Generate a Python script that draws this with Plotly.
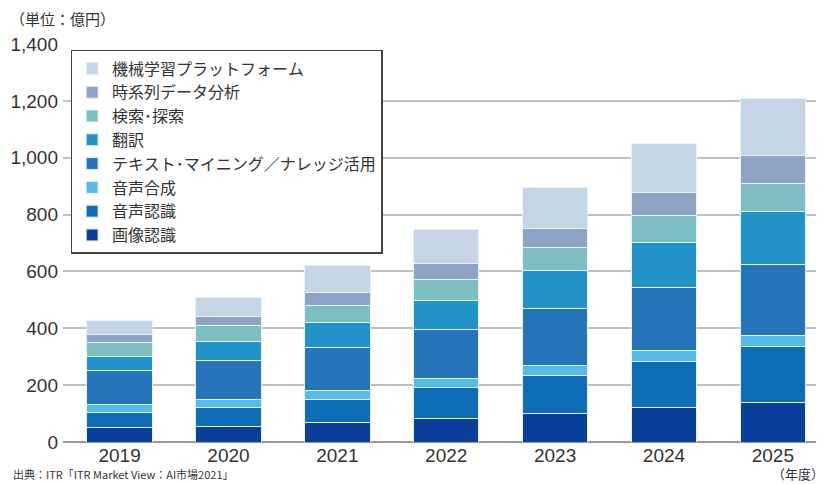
import plotly.graph_objects as go

years = ["2019", "2020", "2021", "2022", "2023", "2024", "2025"]

series_names = [
    "画像認識",
    "音声認識",
    "音声合成",
    "テキスト･マイニング／ナレッジ活用",
    "翻訳",
    "検索･探索",
    "時系列データ分析",
    "機械学習プラットフォーム",
]

gazo = [51, 55, 67, 83, 102, 122, 139]
onsei_ninshiki = [53, 68, 82, 108, 131, 161, 197]
onsei_gosei = [29, 28, 32, 33, 36, 39, 38]
text_mining = [117, 134, 152, 172, 199, 222, 249]
honyaku = [50, 70, 86, 103, 135, 159, 187]
kensaku = [51, 56, 62, 72, 81, 92, 100]
jikeiretsu = [26, 29, 44, 57, 68, 83, 99]
kikai = [49, 70, 96, 120, 143, 172, 198]

values = [gazo, onsei_ninshiki, onsei_gosei, text_mining, honyaku, kensaku, jikeiretsu, kikai]
colors = ["#0a3f9c", "#0d6db7", "#55bbea", "#2574b9", "#2293c9", "#7dbfc0", "#8ea3c6", "#c5d5e6"]

y_ticks = [0, 200, 400, 600, 800, 1000, 1200, 1400]
y_tick_labels = ["0", "200", "400", "600", "800", "1,000", "1,200", "1,400"]

fig = go.Figure()
for name, vals, col in zip(series_names, values, colors):
    fig.add_trace(go.Bar(
        x=list(range(len(years))), y=vals, name=name,
        marker=dict(color=col, line=dict(color="#e6f4fb", width=1)),
        width=0.6,
    ))

# the page body has an 8px default margin, so the figure is offset by (8, 8)
fig.update_layout(
    barmode="stack",
    width=816, height=476,
    margin=dict(l=55, r=0, t=36, b=42, pad=0),
    paper_bgcolor="white", plot_bgcolor="white",
    font=dict(family="Liberation Sans, Noto Sans CJK JP", size=19, color="#333333"),
    legend=dict(
        x=0.01, y=0.985, xanchor="left", yanchor="top",
        traceorder="reversed",
        bgcolor="white", bordercolor="#444444", borderwidth=1.5,
        font=dict(family="Noto Sans CJK JP", size=16, color="#333333"),
        tracegroupgap=0, itemwidth=30,
    ),
    xaxis=dict(
        range=[-0.52, 6.47], automargin=False,
        tickmode="array", tickvals=list(range(len(years))), ticktext=years,
        showgrid=False, showline=False, zeroline=False,
        ticks="", ticklabelstandoff=0,
        tickfont=dict(size=19, color="#333333"),
    ),
    yaxis=dict(
        range=[0, 1400], automargin=False,
        tickmode="array", tickvals=y_ticks, ticktext=y_tick_labels,
        showgrid=True, gridcolor="#c0c0c0", gridwidth=1.5,
        zeroline=True, zerolinecolor="#999999", zerolinewidth=1.5,
        showline=False, ticks="", ticklen=0, ticklabelstandoff=4,
        tickfont=dict(size=19, color="#333333"),
    ),
    annotations=[
        dict(text="（単位：億円）", x=0, y=1, xref="paper", yref="paper",
             xshift=-55, yshift=36 + 2, xanchor="left", yanchor="top",
             showarrow=False, font=dict(family="Noto Sans CJK JP", size=15, color="#333333")),
        dict(text="（年度）", x=1, y=0, xref="paper", yref="paper",
             xshift=2, yshift=-43, xanchor="right", yanchor="bottom",
             showarrow=False, font=dict(family="Noto Sans CJK JP", size=13, color="#333333")),
        dict(text="出典：ITR「ITR Market View：AI市場2021」", x=0, y=0, xref="paper", yref="paper",
             xshift=-52, yshift=-42, xanchor="left", yanchor="bottom",
             showarrow=False, font=dict(family="Noto Sans CJK JP", size=11, color="#333333")),
    ],
)

fig.write_html("out.html")
